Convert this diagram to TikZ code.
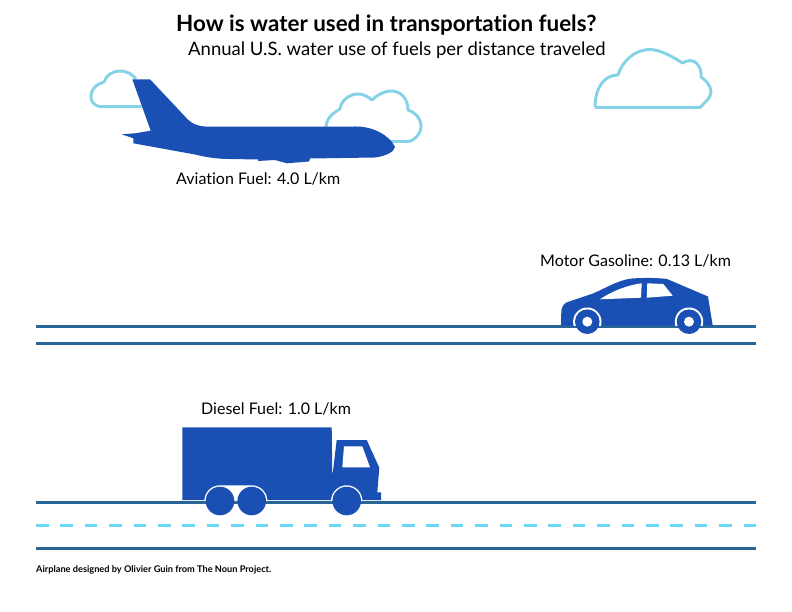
\documentclass[tikz,border=0pt]{standalone}
\usepackage{fontspec}
\setmainfont{Lato}[Ligatures=NoCommon]
\definecolor{planeblue}{HTML}{1A50B4}
\definecolor{roadblue}{HTML}{2A6598}
\definecolor{dashblue}{HTML}{68D8F6}
\definecolor{cloudblue}{HTML}{84D2E8}
\tikzset{
  cloudline/.style={draw=cloudblue,line width=2.9pt,line join=round,fill=none},
  vehicle/.style={fill=planeblue,draw=none},
  road/.style={draw=roadblue,line width=3pt},
  lanedash/.style={draw=dashblue,line width=3pt,dash pattern=on 12.5pt off 11.9pt},
  gap/.style={fill=white,draw=none},
  lab/.style={inner sep=0pt,anchor=base west,text=black,font=\fontsize{16}{18}\selectfont},
}
\begin{document}
\begin{tikzpicture}[x=1pt,y=-1pt]
\useasboundingbox (0,0) rectangle (792,612);
\fill[white] (0,0) rectangle (792,612);
% clouds
\draw[cloudline] (141.7,106.7) -- (102,106.7) .. controls (94,106.7) and (90.5,101) .. (91,96) .. controls (91.5,88) and (97,84) .. (104,82) .. controls (106,75) and (113,71) .. (120,71) .. controls (127,71) and (132,74) .. (136,79);
\draw[cloudline] (326,127) .. controls (326,120) and (331,114) .. (340,109) .. controls (341,100) and (350,94) .. (358,94) .. controls (364,94) and (368,97) .. (372,100) .. controls (377,95) and (384,91) .. (391,91) .. controls (402,91) and (408,100) .. (408,110) .. controls (416,113) and (421,119) .. (421,126) .. controls (421,134) and (414,141) .. (408,141.5) -- (388,141.5);
\draw[cloudline] (595,107.5) -- (700,107.5) .. controls (705,102) and (711,98) .. (711,91.5) .. controls (711,85) and (705,80) .. (701,77) .. controls (702,68) and (696,60) .. (690,60.5) .. controls (687,60.5) and (685,62) .. (682.5,63) .. controls (673,57) and (660,49.5) .. (650,49.5) .. controls (634,49.5) and (622,62) .. (618,75) .. controls (604,75) and (595,88) .. (595,107.5);
% plane
\fill[vehicle] (132.3,79.3) -- (150,79.3) -- (186.7,118.3) .. controls (193,125) and (200,126.7) .. (210,126.7) -- (356,126.5) .. controls (374,126.5) and (390,136) .. (395,147) .. controls (394,152) and (386,156) .. (375,157.5) -- (310,158.5) -- (309,161.5) -- (287,163.3) -- (275,160) -- (258,161) -- (258,159.5) -- (230,159) .. controls (216,159) and (205,157) .. (195,154.5) -- (133.3,143.3) -- (133.3,138.3) -- (121.7,134.3) -- (135,133.3) -- (150.7,130.7) -- cycle;
% roads
\draw[road] (36,326.5) coordinate (r1a) -- (756,326.5) coordinate (r1b);
\draw[road] (36,343.5) coordinate (r2a) -- (756,343.5) coordinate (r2b);
\draw[road] (36,502.5) coordinate (r3a) -- (756,502.5) coordinate (r3b);
\draw[road] (36,548.5) coordinate (r4a) -- (756,548.5) coordinate (r4b);
\draw[lanedash] (36,525.5) coordinate (d1) -- (756,525.5) coordinate (d2);
% car
\fill[vehicle] (561,325.5) -- (561.3,311) .. controls (562,306) and (564,303) .. (569,301.5) -- (593,293.5) .. controls (606,288) and (618,280) .. (632,278.5) .. controls (645,277.5) and (660,278) .. (667,279) -- (708,296.5) -- (712.7,325.5) -- cycle;
\fill[white] (600,299.3) .. controls (612,291) and (628,285) .. (641.7,283.3) -- (641,297.7) -- cycle;
\fill[white] (647.3,283.3) -- (663.3,284) -- (672.7,295.7) -- (646.7,297.7) -- cycle;
\begin{scope}
\clip (540,270) rectangle (730,325);
\fill[gap] (587.3,321.7) circle (14.2);
\fill[gap] (689,321.7) circle (14.2);
\end{scope}
\fill[vehicle] (587.3,321.7) circle (12.3);
\fill[vehicle] (689,321.7) circle (12.3);
\fill[white] (587.3,321.7) circle (5);
\fill[white] (689,321.7) circle (5);
% truck
\fill[vehicle] (182.3,427.3) -- (331.7,427.3) -- (332.3,476.7) -- (336.7,440) -- (366.7,440) -- (379.3,467.7) -- (377.3,492.3) -- (381,492.3) -- (381,500) -- (182.3,500) -- cycle;
\fill[white] (344,446.3) -- (362.3,446.3) -- (370,467.3) -- (342.3,467.3) -- cycle;
\fill[gap] (204.3,501) arc[start angle=180,end angle=270,radius=15.7] -- (251.7,485.3) arc[start angle=270,end angle=360,radius=15.7] -- cycle;
\fill[gap] (331,501) arc[start angle=180,end angle=360,radius=15.7] -- cycle;
\fill[vehicle] (220,501) circle (14.3);
\fill[vehicle] (251.7,501) circle (14.3);
\fill[vehicle] (346.7,501) circle (14.3);
% text
\node[lab,font=\bfseries\fontsize{22.4}{25}\selectfont] (title) at (176,32) {How is water used in transportation fuels?};
\node[lab,font=\fontsize{18.5}{20}\selectfont] (subtitle) at (188,55.7) {Annual U.S. water use of fuels per distance traveled};
\node[lab] (avi) at (176,185) {Aviation Fuel: 4.0 L/km};
\node[lab] (gas) at (540,266) {Motor Gasoline: 0.13 L/km};
\node[lab] (die) at (201,414) {Diesel Fuel: 1.0 L/km};
\node[lab,font=\bfseries\fontsize{9.2}{11}\selectfont] (credit) at (36,572) {Airplane designed by Olivier Guin from The Noun Project.};
\end{tikzpicture}
\end{document}
